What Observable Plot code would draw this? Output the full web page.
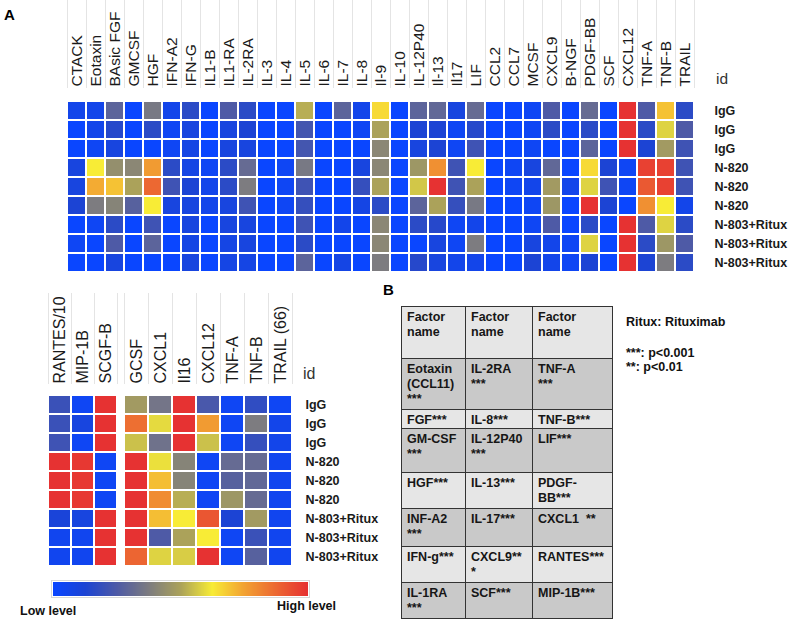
<!DOCTYPE html>
<html><head><meta charset="utf-8">
<script src="https://cdn.jsdelivr.net/npm/d3@7"></script>
<script src="https://cdn.jsdelivr.net/npm/@observablehq/plot@0.6"></script>
<style>
body{margin:0;background:#fff;font-family:"Liberation Sans",Arial,Helvetica,sans-serif;}
#wrap{position:relative;width:789px;height:621px;overflow:hidden;background:#fff;}
.abs{position:absolute;}
.panel{font-weight:bold;color:#000;}
.legbar line, .legbar path{stroke:none !important;}
.legbar{outline:1px solid #d8d8d8;}
#tbl{border-collapse:collapse;font-size:12.5px;font-weight:bold;color:#161616;table-layout:fixed;}
#tbl td{border:1.5px solid #333;vertical-align:top;padding:3px 0 0 5px;white-space:pre;line-height:15px;overflow:hidden;}
.note{font-size:12.5px;font-weight:bold;color:#111;white-space:nowrap;}
</style></head><body><div id="wrap"></div><script>
// ---- data ----
const topFactors = ["CTACK","Eotaxin","BAsic FGF","GMCSF","HGF","IFN-A2","IFN-G","IL1-B","IL1-RA","IL-2RA","IL-3","IL-4","IL-5","IL-6","IL-7","IL-8","Il-9","IL-10","IL-12P40","Il-13","Il17","LIF","CCL2","CCL7","MCSF","CXCL9","B-NGF","PDGF-BB","SCF","CXCL12","TNF-A","TNF-B","TRAIL"];
const sampleIds = ["IgG","IgG","IgG","N-820","N-820","N-820","N-803+Ritux","N-803+Ritux","N-803+Ritux"];
// relative level 0 (low) .. 100 (high)
const topLevels = [
 [4,4,21,0,27,4,11,0,18,11,0,0,40,0,21,4,54, 0,21,22,6,23,0,0,2,18,0,23,0,100,18,59,11],
 [0,4,10,0,11,2,6,0,6,8,0,0,16,0,0,2,38, 0,8,8,2,10,0,0,2,11,0,11,0,100,11,46,18],
 [0,2,6,0,0,2,5,0,6,6,0,0,16,0,0,0,31, 0,6,8,2,15,0,0,2,0,0,21,0,100,8,36,15],
 [6,50,33,31,68,11,5,2,11,23,0,2,27,0,0,6,31, 0,35,71,15,50,0,2,6,22,0,54,8,2,95,95,15],
 [6,64,59,38,82,15,8,4,11,28,0,2,15,0,0,13,38, 0,44,100,15,38,0,2,4,36,4,46,15,2,87,95,15],
 [8,28,30,20,50,6,6,4,6,15,0,2,13,0,0,5,11, 0,21,38,13,27,0,0,2,35,0,100,8,0,71,50,4],
 [0,2,11,0,15,0,6,0,6,6,0,0,15,0,4,0,31, 0,11,10,2,4,0,0,2,18,0,11,0,100,18,46,11],
 [2,0,18,0,21,0,5,0,5,6,0,0,11,0,0,0,31, 0,0,6,2,28,0,0,6,4,2,46,0,100,11,35,18],
 [0,0,6,0,0,0,6,0,5,5,0,0,21,0,5,0,28, 0,10,6,4,4,0,0,8,4,2,8,0,100,8,28,11]
];
const leftFactors = ["RANTES/10","MIP-1B","SCGF-B"];
const leftLevels = [
 [14,2,100],[14,6,100],[15,2,100],[100,98,2],[100,98,2],[100,98,2],[7,6,100],[3,3,100],[3,3,100]
];
const rightFactors = ["GCSF","CXCL1","Il16","CXCL12","TNF-A","TNF-B","TRAIL (66)"];
const rightLevels = [
 [36,26,100,17,2,12,2],
 [80,47,100,68,2,28,4],
 [43,25,100,43,2,13,4],
 [100,48,30,2,23,23,3],
 [100,60,30,2,20,22,3],
 [100,72,40,2,35,23,3],
 [100,60,50,88,8,36,3],
 [100,18,38,50,2,14,3],
 [83,46,45,100,2,20,3]
];
const levelStops = [0,0.08,0.18,0.28,0.38,0.5,0.66,0.82,1];
const levelColors = ["#0a46ff","#1c44d4","#4e5aa6","#7d7c80","#aba25a","#f8ec36","#f2a232","#ec6832","#e63232"];
const tableHeader = ["Factor\nname","Factor\nname","Factor\nname"];
const tableCol1 = ["Eotaxin\n(CCL11)\n***","FGF***","GM-CSF\n***","HGF***","INF-A2\n***","IFN-g***","IL-1RA\n***"];
const tableCol2 = ["IL-2RA\n***","IL-8***","IL-12P40\n***","IL-13***","IL-17***","CXCL9**\n*","SCF***"];
const tableCol3 = ["TNF-A\n***","TNF-B***","LIF***","PDGF-\nBB***","CXCL1  **","RANTES***","MIP-1B***"];
const notes = ["Ritux: Rituximab","***: p<0.001","**: p<0.01"];

// ---- helpers ----
const wrap = document.getElementById("wrap");
function place(node, left, top) { node.classList.add("abs"); node.style.left = left + "px"; node.style.top = top + "px"; wrap.appendChild(node); return node; }
function span(text, cls, left, top, css) { const s = document.createElement("div"); s.textContent = text; s.className = cls || ""; if (css) Object.assign(s.style, css); return place(s, left, top); }
function toCells(factors, levels) { const out = []; levels.forEach((r, i) => factors.forEach((f, j) => out.push({row: i, factor: f, level: r[j] / 100}))); return out; }
function headerRules(y0, gapBelow) {
  return (index, scales, values, dims) => {
    const x = scales.x, bw = x.bandwidth();
    const edges = x.domain().map(d => x(d)); edges.push(edges[edges.length - 1] + bw);
    const g = d3.create("svg:g").attr("stroke", "#e4e4e4").attr("stroke-width", 1);
    for (const e of edges) g.append("line").attr("x1", Math.round(e) + 0.5).attr("x2", Math.round(e) + 0.5).attr("y1", y0).attr("y2", dims.marginTop - gapBelow);
    return g.node();
  };
}
const colorOpts = {type: "linear", domain: levelStops, range: levelColors, interpolate: "rgb", clamp: true};
const ff = '"Liberation Sans", Arial, Helvetica, sans-serif';

// ---- top heatmap ----
const topPlot = Plot.plot({
  width: 789, height: 285, marginLeft: 53, marginRight: 82, marginTop: 97, marginBottom: 10,
  style: {fontFamily: ff, fontSize: "15.5px", background: "transparent", color: "#1a1a1a"},
  x: {domain: topFactors, padding: 0, axis: null},
  y: {domain: d3.range(sampleIds.length), padding: 0, axis: null},
  color: colorOpts,
  marks: [
    headerRules(0, 9),
    Plot.cell(toCells(topFactors, topLevels), {x: "factor", y: "row", fill: "level", inset: 1}),
    Plot.axisX({anchor: "top", tickRotate: -90, tickSize: 0, tickPadding: 11, label: null}),
    Plot.axisY({anchor: "right", tickSize: 0, tickPadding: 7, fontSize: 12.5, fontWeight: "bold", tickFormat: i => sampleIds[i], label: null})
  ]
});
place(topPlot, 0, 0);

// ---- bottom heatmaps ----
const bottomTop = 285;
const leftPlot = Plot.plot({
  width: 118, height: 285, marginLeft: 48, marginRight: 1, marginTop: 108, marginBottom: 2,
  style: {fontFamily: ff, fontSize: "16px", background: "transparent", color: "#1a1a1a"},
  x: {domain: leftFactors, padding: 0, axis: null},
  y: {domain: d3.range(sampleIds.length), padding: 0, axis: null},
  color: colorOpts,
  marks: [
    headerRules(8, 9),
    Plot.cell(toCells(leftFactors, leftLevels), {x: "factor", y: "row", fill: "level", inset: 1}),
    Plot.axisX({anchor: "top", tickRotate: -90, tickSize: 0, tickPadding: 10, label: null})
  ]
});
place(leftPlot, 0, bottomTop);

const rightPlot = Plot.plot({
  width: 270, height: 285, marginLeft: 6, marginRight: 96, marginTop: 108, marginBottom: 2,
  style: {fontFamily: ff, fontSize: "16px", background: "transparent", color: "#1a1a1a"},
  x: {domain: rightFactors, padding: 0, axis: null},
  y: {domain: d3.range(sampleIds.length), padding: 0, axis: null},
  color: colorOpts,
  marks: [
    headerRules(8, 9),
    Plot.cell(toCells(rightFactors, rightLevels), {x: "factor", y: "row", fill: "level", inset: 1}),
    Plot.axisX({anchor: "top", tickRotate: -90, tickSize: 0, tickPadding: 10, label: null}),
    Plot.axisY({anchor: "right", tickSize: 0, tickPadding: 13, fontSize: 12.5, fontWeight: "bold", tickFormat: i => sampleIds[i], label: null})
  ]
});
place(rightPlot, 118, bottomTop);

// "id" labels
span("id", "", 716, 70, {fontSize: "15.5px", color: "#333"});
span("id", "", 303, 365, {fontSize: "16px", color: "#333"});

// ---- legend ----
const leg = Plot.legend({color: colorOpts, width: 257, height: 16, marginTop: 1, marginBottom: 1, marginLeft: 1, marginRight: 1, tickSize: 0, tickFormat: () => "", label: null});
leg.classList.add("legbar");
place(leg, 52, 581);
span("Low level", "note", 20, 604);
span("High level", "note", 277, 599);

// ---- panel labels ----
span("A", "panel", 4, 6, {fontSize: "15px"});
span("B", "panel", 383, 281, {fontSize: "15px"});

// ---- table ----
const tbl = document.createElement("table"); tbl.id = "tbl";
const colW = [64, 67, 80];
const cg = document.createElement("colgroup");
colW.forEach(w => { const c = document.createElement("col"); c.style.width = w + "px"; cg.appendChild(c); });
tbl.appendChild(cg);
const rowH = [52, 51, 19, 44, 36, 38, 36, 36];
const rows = [tableHeader].concat(tableCol1.map((d, i) => [d, tableCol2[i], tableCol3[i]]));
rows.forEach((r, i) => {
  const tr = document.createElement("tr");
  tr.style.height = rowH[i] + "px";
  tr.style.background = i % 2 === 0 ? "#e6e6e6" : "#c9c9c9";
  r.forEach(t => { const td = document.createElement("td"); td.textContent = t; tr.appendChild(td); });
  tbl.appendChild(tr);
});
place(tbl, 401, 306);

// notes
span(notes[0], "note", 626, 315);
span(notes[1], "note", 626, 346);
span(notes[2], "note", 626, 360);
</script></body></html>
